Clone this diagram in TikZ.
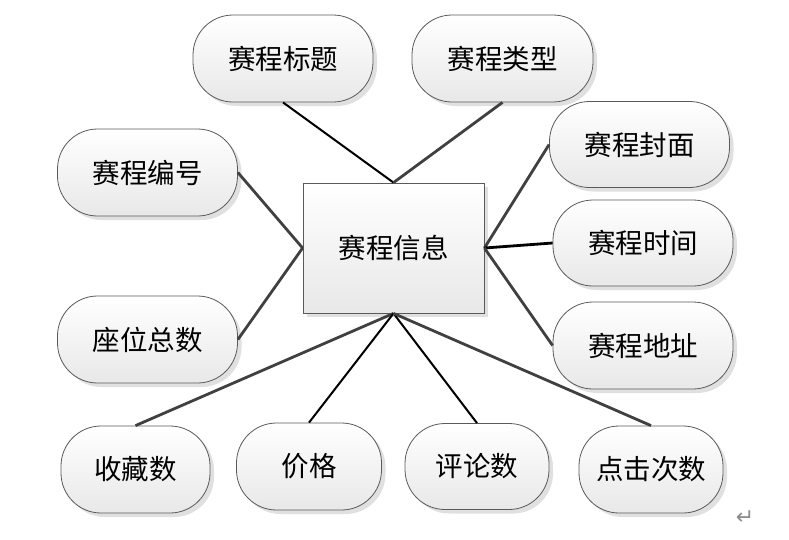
\documentclass[tikz,border=0pt]{standalone}
\usepackage{fontspec}
\newfontfamily\cjk{Noto Sans CJK SC}
\newfontfamily\djv{DejaVu Sans}
\usetikzlibrary{shadows}
\definecolor{edgegray}{HTML}{404040}
\definecolor{bordergray}{HTML}{5A5A5A}
\tikzset{
  attr/.style={draw=bordergray, line width=0.8pt, rounded corners=40pt,
    top color=white, bottom color=black!9,
    drop shadow={shadow xshift=4pt, shadow yshift=-4pt, fill=black!12, opacity=1},
    inner sep=0pt, font=\cjk\fontsize{27.5}{30}\selectfont},
  entity/.style={draw=bordergray, line width=0.8pt,
    top color=white, bottom color=black!9,
    drop shadow={shadow xshift=4pt, shadow yshift=-4pt, fill=black!12, opacity=1},
    inner sep=0pt, minimum width=181pt, minimum height=130pt,
    font=\cjk\fontsize{27.5}{30}\selectfont},
  thickline/.style={draw=edgegray, line width=2.8pt},
  thinline/.style={draw=black, line width=2pt},
}
\begin{document}
\begin{tikzpicture}[x=1pt,y=-1pt]
\useasboundingbox (0,0) rectangle (789,539);
\node[attr, minimum width=180pt, minimum height=87pt] (t1) at (283,58.5) {赛程标题};
\node[attr, minimum width=181pt, minimum height=87pt] (t2) at (502.5,58.5) {赛程类型};
\node[attr, minimum width=180pt, minimum height=87pt] (l1) at (147.5,172.5) {赛程编号};
\node[attr, minimum width=180pt, minimum height=87pt] (l2) at (147.5,339.5) {座位总数};
\node[attr, minimum width=180pt, minimum height=86pt] (r1) at (639.5,144.5) {赛程封面};
\node[attr, minimum width=180pt, minimum height=86pt] (r2) at (643,243) {赛程时间};
\node[attr, minimum width=180pt, minimum height=87pt] (r3) at (643,345.5) {赛程地址};
\node[attr, minimum width=149pt, minimum height=87pt] (b1) at (135.5,469.5) {收藏数};
\node[attr, minimum width=145pt, minimum height=87pt] (b2) at (309,466.5) {价格};
\node[attr, minimum width=144pt, minimum height=86pt] (b3) at (477,466.5) {评论数};
\node[attr, minimum width=144pt, minimum height=87pt] (b4) at (651,469.5) {点击次数};
\node[entity] (c) at (393.5,248) {赛程信息};
\draw[thinline] (c.north) -- (t1.south);
\draw[thickline] (c.north) -- (t2.south);
\draw[thickline] (c.west) -- (l1.east);
\draw[thickline] (c.west) -- (l2.east);
\draw[thickline] (c.east) -- (r1.west);
\draw[thinline, line width=2.8pt] (c.east) -- (r2.west);
\draw[thickline] (c.east) -- (r3.west);
\draw[thickline] (c.south) -- (b1.north);
\draw[thinline] (c.south) -- (b2.north);
\draw[thinline] (c.south) -- (b3.north);
\draw[thickline] (c.south) -- (b4.north);
\node[text=black!45, font=\djv\fontsize{22}{24}\selectfont, inner sep=0pt] (ret) at (745,518) {↵};
\end{tikzpicture}
\end{document}
